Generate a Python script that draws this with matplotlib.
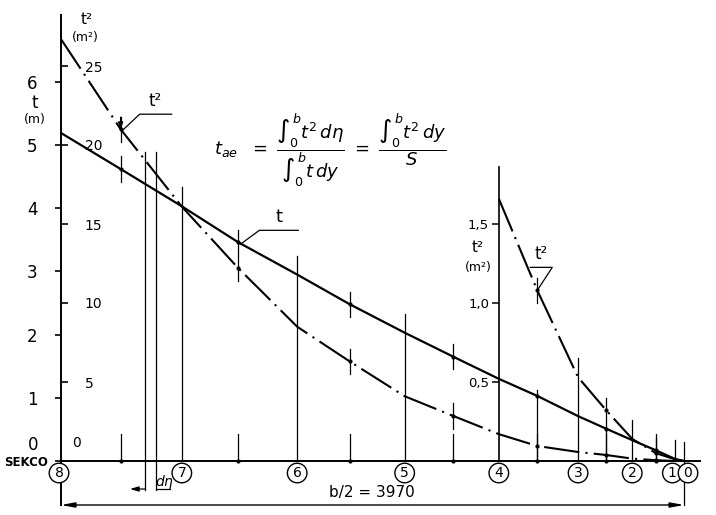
import matplotlib
matplotlib.use('Agg')
import matplotlib.pyplot as plt
import numpy as np

# numbered sections, spanwise position from root (mm)
station_eta = [0, 770, 1505, 2190, 2790, 3295, 3640, 3915, 3970]
station_names = ['8', '7', '6', '5', '4', '3', '2', '1', '0']
# intermediate sections
mid_eta = [380, 1130, 1840, 2500, 3035, 3475, 3790]

# thickness t (m) and t^2 (m^2) read along the span
eta = [0, 380, 770, 1130, 1505, 1840, 2190, 2500, 2790, 3035, 3295, 3475, 3640, 3790, 3915, 3970]
t = [5.19, 4.62, 4.03, 3.46, 2.95, 2.48, 2.03, 1.65, 1.30, 1.03, 0.71, 0.51, 0.33, 0.17, 0.03, 0.0]
t2 = [26.7, 21.0, 16.1, 12.2, 8.5, 6.3, 4.1, 2.85, 1.7, 0.95, 0.57, 0.38, 0.15, 0.05, 0.0, 0.0]

# t^2 on the enlarged scale, section 4 to the tip
eta_tip = [2790, 3035, 3295, 3475, 3640, 3790, 3915, 3970]
t2_tip = [1.66, 1.08, 0.53, 0.32, 0.14, 0.05, 0.01, 0.0]

t_ticks = [0, 1, 2, 3, 4, 5, 6]
t2_ticks = [0, 5, 10, 15, 20, 25]
tip_ticks = [0.5, 1.0, 1.5]
tip_labels = ['0,5', '1,0', '1,5']
half_span = 3970

# ---- layout (pixels of the 716x515 picture) ----
W, H = 716, 515
X0 = 61                 # pixel of section 8
XS = 623 / half_span    # px per mm
Y0 = 461                # pixel of the zero line
T_PX, T2_PX, TIP_PX = 63.2, 15.8, 158.0   # px per unit of each scale


def ylim_for(k):
    return (-(H - Y0) / k, Y0 / k)


def ex(px):
    return (px - X0) / XS


def dx(px):
    return px / XS


fig = plt.figure(figsize=(W / 100, H / 100), dpi=100)
ax = fig.add_axes([0, 0, 1, 1])
ax.set_xlim(-X0 / XS, (W - X0) / XS)
ax.set_ylim(*ylim_for(T_PX))
ax2 = ax.twinx()
ax2.set_ylim(*ylim_for(T2_PX))
ax3 = ax.twinx()
ax3.set_ylim(*ylim_for(TIP_PX))

lw_axis = 1.4
lw_thin = 0.9
dash = (17, 3, 1, 3)

# main axes: t on the left, zero line at the bottom
for s in ['top', 'right']:
    ax.spines[s].set_visible(False)
ax.spines['left'].set_position(('data', 0))
ax.spines['left'].set_bounds(-0.70, 7.06)
ax.spines['bottom'].set_position(('data', 0))
ax.spines['bottom'].set_bounds(0, ex(700))
for s in ['left', 'bottom']:
    ax.spines[s].set_linewidth(lw_axis)
ax.set_xticks([])
ax.set_yticks(t_ticks)
ax.set_yticklabels([''] + [str(v) for v in t_ticks[1:]])
ax.tick_params(axis='y', direction='out', length=4, width=1.2, pad=13, labelsize=12)
ax.text(ex(33), (Y0 - 445) / T_PX, '0', fontsize=12, ha='center', va='center')

# t^2 scale on the same line, ticks to the right
for s in ax2.spines.values():
    s.set_visible(False)
ax2.spines['right'].set_position(('data', 0))
ax2.set_yticks(t2_ticks)
ax2.set_yticklabels([''] + [str(v) for v in t2_ticks[1:]])
ax2.tick_params(axis='y', right=True, left=False, labelright=True, labelleft=False,
                direction='out', length=5, width=1.2, pad=12, labelsize=10)
ax2.text(ex(77), (462 - 444) / T2_PX, '0', fontsize=10, ha='center', va='center')

# enlarged t^2 scale at section 4
for s in ax3.spines.values():
    s.set_visible(False)
ax3.yaxis.tick_left()
ax3.spines['left'].set_visible(True)
ax3.spines['left'].set_position(('data', station_eta[4]))
ax3.spines['left'].set_bounds(0, 1.86)
ax3.spines['left'].set_linewidth(1.2)
ax3.set_yticks(tip_ticks)
ax3.set_yticklabels(tip_labels)
ax3.tick_params(axis='y', direction='out', length=5, width=1.1, pad=2, labelsize=9.5)

# curves
ax.plot(eta, t, color='k', lw=1.6, solid_capstyle='round')
ax2.plot(eta, t2, color='k', lw=1.5, dashes=dash)
ax3.plot(eta_tip, t2_tip, color='k', lw=1.5, dashes=dash)

k2 = T2_PX / T_PX
kt = TIP_PX / T_PX
h = 12.6 / T_PX

# marks at the intermediate sections
for e in mid_eta:
    tv = np.interp(e, eta, t)
    qv = np.interp(e, eta, t2) * k2
    ax.plot([e, e], [0, 0.42], color='k', lw=lw_thin)
    ax.plot(e, 0, 'k.', ms=4)
    ax.plot(e, tv, 'k.', ms=4)
    ax.plot(e, qv, 'k.', ms=4)
    if e < station_eta[4]:
        ax.plot([e, e], [tv - h, tv + h], color='k', lw=lw_thin)
        ax.plot([e, e], [qv - h, qv + h], color='k', lw=lw_thin)
    else:
        iv = np.interp(e, eta_tip, t2_tip) * kt
        ax.plot(e, iv, 'k.', ms=4)
        if iv > tv + 1:
            ax.plot([e, e], [0, tv + 0.1], color='k', lw=lw_thin)
            ax.plot([e, e], [iv - h, iv + h], color='k', lw=lw_thin)
        else:
            ax.plot([e, e], [0, max(tv, iv) + h], color='k', lw=lw_thin)

# lines through the numbered sections, with circled numbers
for e, name in zip(station_eta, station_names):
    if name not in ('8', '4'):
        tv = np.interp(e, eta, t)
        iv = np.interp(e, eta_tip, t2_tip) * kt if e >= station_eta[4] else 0
        bottom = -0.70 if name == '0' else 0
        ax.plot([e, e], [bottom, max(tv, iv) + 0.3], color='k', lw=lw_thin)
    off = {'8': -2, '1': -3, '0': 4}.get(name, 0)
    ax.text(e + dx(off), -0.19, name, fontsize=10, ha='center', va='center',
            bbox=dict(boxstyle='circle,pad=0.2', fc='white', ec='k', lw=1.0))

ax.text(ex(26), -0.03, 'SEKCO', fontsize=8.5, fontweight='bold', ha='center', va='center')

# strip d eta
for px in [145, 156]:
    ax.plot([ex(px), ex(px)], [(Y0 - 152) / T_PX, (Y0 - 490) / T_PX], color='k', lw=lw_thin)
ya = (Y0 - 489) / T_PX
ax.annotate('', xy=(ex(130), ya), xytext=(ex(145), ya),
            arrowprops=dict(arrowstyle='-|>,head_length=0.5,head_width=0.15', color='k',
                            lw=lw_thin, shrinkA=0, shrinkB=0))
ax.plot([ex(156), ex(170)], [ya, ya], color='k', lw=lw_thin)
ax.text(ex(165), (Y0 - 482) / T_PX, r'$d\eta$', fontsize=10, ha='center', va='center')

# span dimension
yd = (Y0 - 505) / T_PX
ax.annotate('', xy=(0, yd), xytext=(half_span, yd),
            arrowprops=dict(arrowstyle='<|-|>,head_length=0.8,head_width=0.15', color='k',
                            lw=1.0, shrinkA=0, shrinkB=0))
ax.text(ex(372), (Y0 - 493) / T_PX, 'b/2 = %d' % half_span, fontsize=11,
        ha='center', va='center')

# axis names
ax.text(ex(35), (Y0 - 103) / T_PX, 't', fontsize=12, ha='center', va='center')
ax.text(ex(35), (Y0 - 119) / T_PX, '(m)', fontsize=9, ha='center', va='center')
ax.text(ex(87), (Y0 - 20) / T_PX, 't²', fontsize=11, ha='center', va='center')
ax.text(ex(85), (Y0 - 38) / T_PX, '(m²)', fontsize=9, ha='center', va='center')
ax.text(ex(478), (Y0 - 248) / T_PX, 't²', fontsize=11, ha='center', va='center')
ax.text(ex(478), (Y0 - 267) / T_PX, '(m²)', fontsize=9, ha='center', va='center')

# formula
ax.text(ex(330), (Y0 - 150) / T_PX,
        r'$t_{ae}\ \ =\ \dfrac{\int_0^b t^2\,d\eta}{\int_0^b t\,dy}\ =\ \dfrac{\int_0^b t^2\,dy}{S}$',
        fontsize=13, ha='center', va='center')

# leaders to the curves
px, py = eta[3], t[3]
ax.plot([px + dx(2), px + dx(21), px + dx(60)],
        [py - 2 / T_PX, py + 12 / T_PX, py + 12 / T_PX], color='k', lw=lw_thin)
ax.text(px + dx(41), py + 25 / T_PX, 't', fontsize=13, ha='center', va='center')

px, py = eta[1], t2[1]
ax2.plot([px + dx(1), px + dx(19), px + dx(51)],
         [py - 2 / T2_PX, py + 15 / T2_PX, py + 15 / T2_PX], color='k', lw=lw_thin)
ax2.annotate('', xy=(px, py), xytext=(px, py + 12 / T2_PX),
             arrowprops=dict(arrowstyle='-|>,head_length=0.4,head_width=0.15', color='k',
                             lw=lw_thin, shrinkA=0, shrinkB=0))
ax2.text(px + dx(34), py + 28 / T2_PX, 't²', fontsize=12, ha='center', va='center')

px, py = eta_tip[1], t2_tip[1]
ax3.plot([px, px + dx(15), px + dx(-7)],
         [py, py + 23 / TIP_PX, py + 23 / TIP_PX], color='k', lw=lw_thin)
ax3.text(px + dx(4), py + 36 / TIP_PX, 't²', fontsize=12, ha='center', va='center')

fig.savefig('out.png', dpi=100)
